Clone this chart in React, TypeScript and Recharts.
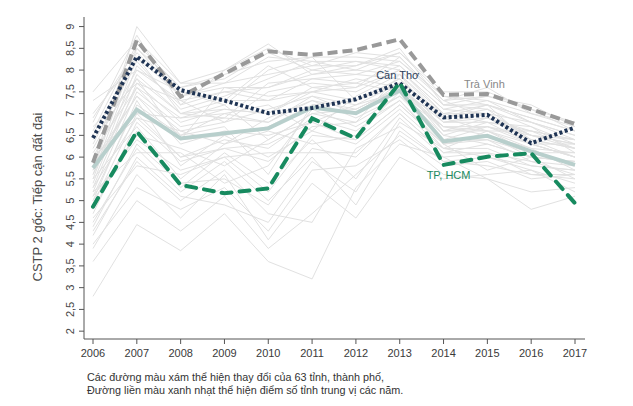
import { Line, LineChart, XAxis, YAxis } from "recharts";

const years = [2006, 2007, 2008, 2009, 2010, 2011, 2012, 2013, 2014, 2015, 2016, 2017];
const yTicks = [2, 2.5, 3, 3.5, 4, 4.5, 5, 5.5, 6, 6.5, 7, 7.5, 8, 8.5, 9];

// highlighted provinces + median
const median = [5.75, 7.09, 6.43, 6.55, 6.66, 7.14, 7.01, 7.53, 6.36, 6.49, 6.13, 5.82];
const traVinh = [5.87, 8.69, 7.39, 7.92, 8.43, 8.35, 8.46, 8.71, 7.43, 7.45, 7.1, 6.76];
const canTho = [6.44, 8.31, 7.54, 7.3, 7.01, 7.13, 7.33, 7.7, 6.91, 6.97, 6.32, 6.68];
const tpHcm = [4.86, 6.59, 5.36, 5.17, 5.28, 6.89, 6.43, 7.71, 5.82, 6.01, 6.09, 4.94];

// the grey tangle of other provinces (read approximately)
const provinces = [
  [2.8, 4.45, 3.85, 4.7, 3.6, 3.2, 5.3, 6.3, 6.0, 5.5, 4.8, 5.1],
  [3.6, 5.0, 4.3, 5.1, 3.9, 4.7, 5.6, 6.5, 5.8, 5.9, 5.5, 5.6],
  [3.9, 5.6, 4.6, 5.6, 4.1, 5.4, 4.6, 6.0, 5.5, 5.6, 5.7, 5.4],
  [4.2, 6.0, 5.1, 4.9, 4.5, 5.9, 5.2, 6.8, 6.2, 6.0, 5.8, 5.7],
  [4.4, 6.3, 5.4, 5.5, 4.9, 6.2, 6.0, 7.0, 6.1, 6.3, 6.0, 5.9],
  [4.6, 5.8, 5.6, 6.0, 5.2, 6.5, 6.4, 7.2, 6.3, 6.5, 6.2, 6.1],
  [4.7, 6.8, 5.9, 6.2, 5.9, 6.7, 6.8, 7.4, 6.4, 6.4, 5.9, 5.8],
  [4.9, 7.0, 6.0, 6.4, 6.2, 6.9, 6.6, 7.3, 6.2, 6.6, 6.3, 6.0],
  [5.0, 6.5, 6.2, 5.8, 6.4, 7.0, 7.1, 7.6, 6.6, 6.7, 6.4, 6.2],
  [5.1, 7.2, 6.5, 6.7, 5.6, 7.2, 7.3, 7.8, 6.8, 6.9, 6.5, 6.3],
  [5.2, 7.5, 6.7, 6.9, 6.8, 7.4, 7.0, 7.5, 6.9, 6.6, 6.6, 6.4],
  [5.3, 7.7, 6.8, 7.1, 7.0, 7.6, 7.5, 8.0, 7.1, 7.0, 6.8, 6.5],
  [5.4, 7.9, 7.0, 7.3, 7.3, 7.8, 7.7, 8.1, 7.2, 7.2, 6.9, 6.6],
  [5.5, 8.1, 7.2, 7.5, 7.6, 8.0, 7.9, 8.2, 7.4, 7.3, 7.0, 6.7],
  [5.6, 8.3, 7.4, 7.7, 7.9, 8.1, 8.1, 8.4, 7.5, 7.5, 7.1, 6.8],
  [5.7, 8.5, 7.6, 7.9, 8.2, 8.3, 8.3, 8.2, 7.3, 7.4, 7.2, 6.7],
  [5.8, 9.0, 7.7, 8.0, 8.6, 7.9, 8.0, 7.9, 7.0, 7.2, 6.9, 6.6],
  [5.9, 7.4, 6.3, 6.6, 6.5, 6.8, 7.2, 7.7, 6.5, 6.8, 6.3, 6.0],
  [6.0, 6.9, 6.6, 6.3, 6.9, 7.3, 6.9, 7.4, 6.7, 6.5, 6.0, 5.9],
  [6.1, 7.6, 6.9, 7.0, 7.2, 6.6, 7.4, 7.9, 6.9, 7.1, 6.7, 6.3],
  [6.2, 8.0, 7.3, 6.8, 7.5, 7.7, 7.6, 8.3, 7.3, 6.9, 6.6, 6.2],
  [6.3, 8.2, 7.1, 7.4, 7.8, 8.2, 8.2, 8.0, 7.1, 7.3, 6.8, 6.5],
  [6.4, 7.8, 6.4, 7.6, 7.4, 7.5, 7.8, 7.6, 6.8, 7.0, 6.5, 6.4],
  [6.5, 8.4, 7.5, 7.2, 8.0, 8.3, 7.3, 7.7, 7.0, 6.8, 6.7, 6.1],
  [6.6, 8.6, 7.6, 7.8, 8.4, 8.0, 8.2, 8.1, 7.2, 7.1, 6.4, 6.0],
  [6.8, 8.8, 7.2, 8.0, 8.5, 8.1, 8.4, 8.3, 7.3, 7.6, 7.0, 6.8],
  [7.0, 8.3, 7.0, 6.9, 7.7, 7.8, 7.9, 7.8, 6.9, 7.2, 6.3, 6.3],
  [7.3, 8.0, 7.5, 7.3, 8.1, 7.6, 7.7, 7.5, 6.7, 6.6, 6.1, 6.1],
  [7.5, 8.7, 7.7, 7.7, 8.3, 8.2, 8.0, 8.4, 7.4, 7.2, 6.8, 6.4],
  [4.0, 5.3, 4.8, 5.3, 4.3, 5.7, 5.8, 6.4, 5.6, 5.5, 5.2, 5.3],
  [4.3, 5.9, 5.0, 5.7, 4.7, 4.5, 6.2, 6.7, 5.9, 5.8, 5.6, 5.5],
  [4.8, 6.6, 5.3, 6.1, 5.4, 6.4, 5.5, 6.9, 6.0, 6.1, 5.6, 5.6],
  [5.0, 7.3, 5.8, 6.5, 6.0, 6.6, 6.3, 7.1, 6.2, 6.2, 5.8, 5.7],
  [5.2, 6.1, 6.1, 5.4, 5.8, 7.1, 6.7, 7.3, 6.3, 6.4, 6.1, 5.8],
  [5.5, 6.7, 5.5, 6.3, 6.6, 6.3, 6.5, 7.5, 6.5, 6.3, 6.0, 5.9],
  [5.7, 7.1, 6.4, 6.5, 6.7, 7.2, 7.0, 7.7, 6.6, 6.6, 6.2, 5.7],
  [5.8, 7.4, 6.6, 6.8, 7.1, 7.4, 7.2, 7.5, 6.4, 6.7, 6.3, 6.0],
  [6.0, 7.0, 6.9, 7.2, 6.4, 7.0, 6.8, 7.9, 6.6, 6.9, 6.4, 6.2],
  [6.7, 7.7, 7.3, 7.5, 7.3, 7.5, 7.6, 8.0, 7.0, 7.0, 6.5, 6.3],
  [4.5, 6.2, 5.2, 5.9, 5.0, 6.0, 4.9, 6.6, 5.9, 6.0, 5.7, 5.2],
  [5.1, 6.4, 5.7, 6.0, 6.1, 6.1, 6.1, 7.0, 6.1, 6.1, 5.9, 5.6],
  [5.3, 6.9, 6.0, 6.2, 6.3, 6.8, 6.4, 7.2, 6.3, 5.7, 6.0, 5.5],
  [5.6, 7.6, 6.5, 7.0, 6.8, 7.3, 7.1, 7.6, 6.7, 6.7, 6.5, 6.2],
  [6.0, 7.8, 7.0, 7.1, 7.0, 7.5, 7.3, 7.8, 6.8, 6.8, 6.6, 6.4],
  [6.9, 8.5, 7.4, 7.6, 7.6, 7.9, 8.1, 8.5, 7.2, 7.4, 7.1, 6.6],
];

const data = years.map((year, i) => {
  const row: Record<string, number> = {
    year,
    median: median[i],
    traVinh: traVinh[i],
    canTho: canTho[i],
    tpHcm: tpHcm[i],
  };
  provinces.forEach((p, k) => {
    row["p" + k] = p[i];
  });
  return row;
});

const FONT = "'Liberation Sans', Arial, sans-serif";

const YTick = (props: any) => {
  const { x, y, payload } = props;
  const tx = x - 3;
  return (
    <text
      x={tx}
      y={y}
      transform={`rotate(-90 ${tx} ${y})`}
      textAnchor="middle"
      fontSize={11}
      fill="#444"
      fontFamily={FONT}
    >
      {String(payload.value).replace(".", ",")}
    </text>
  );
};

const pointLabel = (idx: number, text: string, color: string, dx: number, dy: number) => (p: any) => {
  if (p.index !== idx) return <g />;
  return (
    <text x={p.x + dx} y={p.y + dy} textAnchor="middle" fontSize={11} fill={color} fontFamily={FONT}>
      {text}
    </text>
  );
};

export default function App() {
  return (
    <div style={{ position: "absolute", left: 0, top: 0, width: 633, height: 406, background: "#fff", fontFamily: FONT }}>
      <LineChart width={633} height={406} data={data} margin={{ top: 17, right: 48, bottom: 0, left: 0 }}>
        <XAxis
          dataKey="year"
          type="number"
          domain={[2006, 2017]}
          ticks={years}
          padding={{ left: 9, right: 10 }}
          height={67}
          tickSize={5}
          tickMargin={5}
          stroke="#555"
          tick={{ fill: "#3a3a3a", fontSize: 11, fontFamily: FONT }}
          interval={0}
        />
        <YAxis
          type="number"
          domain={[1.82, 9.22]}
          ticks={yTicks}
          allowDataOverflow
          width={84}
          tickSize={5}
          tickMargin={2}
          stroke="#555"
          tick={<YTick />}
          interval={0}
          label={{
            content: () => (
              <text
                x={42}
                y={197}
                transform="rotate(-90 42 197)"
                textAnchor="middle"
                fontSize={13}
                fill="#4a4a4a"
                fontFamily={FONT}
              >
                CSTP 2 gốc: Tiếp cận đất đai
              </text>
            ),
          }}
        />
        {provinces.map((_, k) => (
          <Line
            key={k}
            dataKey={"p" + k}
            stroke="#e1e1e1"
            strokeWidth={1}
            dot={false}
            activeDot={false}
            isAnimationActive={false}
          />
        ))}
        <Line dataKey="median" stroke="#b8cfcc" strokeWidth={4} dot={false} activeDot={false} isAnimationActive={false} />
        <Line
          dataKey="traVinh"
          stroke="#999999"
          strokeWidth={4}
          strokeDasharray="10 5"
          dot={false}
          activeDot={false}
          isAnimationActive={false}
          label={pointLabel(9, "Trà Vinh", "#888", -3, -6)}
        />
        <Line
          dataKey="canTho"
          stroke="#1f3454"
          strokeWidth={4}
          strokeDasharray="3 2.5"
          dot={false}
          activeDot={false}
          isAnimationActive={false}
          label={pointLabel(7, "Cần Thơ", "#2c3e5a", -2, -4)}
        />
        <Line
          dataKey="tpHcm"
          stroke="#178a5f"
          strokeWidth={4}
          strokeDasharray="10 8"
          strokeLinecap="round"
          dot={false}
          activeDot={false}
          isAnimationActive={false}
          label={pointLabel(8, "TP, HCM", "#1b8a60", 5, 14)}
        />
      </LineChart>
      <div
        style={{
          position: "absolute",
          left: 87,
          top: 371,
          fontSize: 10.8,
          lineHeight: "12.5px",
          color: "#333",
          whiteSpace: "nowrap",
        }}
      >
        Các đường màu xám thể hiện thay đổi của 63 tỉnh, thành phố,
        <br />
        Đường liền màu xanh nhạt thể hiện điểm số tỉnh trung vị các năm.
      </div>
    </div>
  );
}
